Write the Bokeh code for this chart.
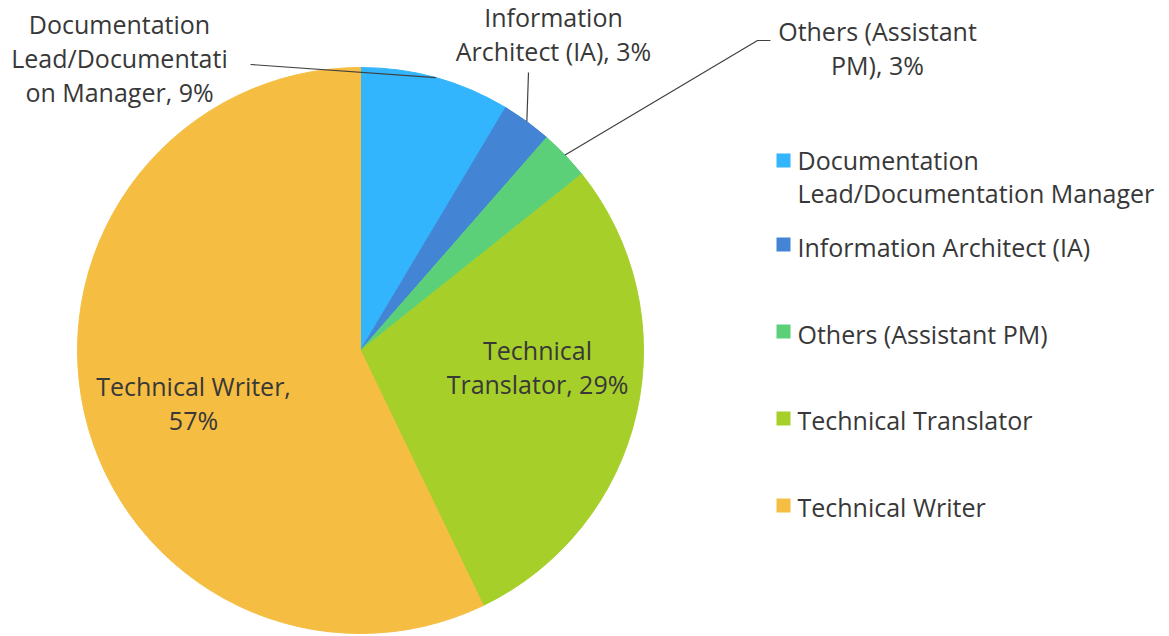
import math
from bokeh.plotting import figure
from bokeh.models import Range1d, ColumnDataSource
from bokeh.core.properties import value
from bokeh.embed import file_html
from bokeh.resources import INLINE

# ---- data ----
categories = ["Documentation Lead/Documentation Manager", "Information Architect (IA)",
              "Others (Assistant PM)", "Technical Translator", "Technical Writer"]
counts = [3, 1, 1, 10, 20]
colors = ["#33B5FD", "#4484D4", "#5BD079", "#A6CF2A", "#F5BE42"]
legend_labels = ["Documentation\nLead/Documentation Manager", "Information Architect (IA)",
                 "Others (Assistant PM)", "Technical Translator", "Technical Writer"]
label_templates = ["Documentation\nLead/Documentati\non Manager, {}%",
                   "Information\nArchitect (IA), {}%",
                   "Others (Assistant\nPM), {}%",
                   "Technical\nTranslator, {}%",
                   "Technical Writer,\n{}%"]

FONT = "Open Sans"
FS = "25px"
TXT = "#383838"
W_PLOT, H_PLOT = 1169, 636

def Y(y):
    return H_PLOT - y

p = figure(width=W_PLOT, height=H_PLOT, output_backend="svg", toolbar_location=None,
           x_range=Range1d(0, W_PLOT), y_range=Range1d(0, H_PLOT),
           x_axis_location=None, y_axis_location=None, min_border=0)
p.grid.visible = False
p.outline_line_color = None
p.background_fill_color = "white"
p.border_fill_color = "white"

cx, cy, R = 360, Y(350), 283
total = sum(counts)
cum = [0]
for c in counts:
    cum.append(cum[-1] + c)
starts = [math.pi / 2 - 2 * math.pi * cum[i + 1] / total for i in range(len(counts))]
ends = [math.pi / 2 - 2 * math.pi * cum[i] / total for i in range(len(counts))]
mids = [(s + e) / 2 for s, e in zip(starts, ends)]
pcts = [round(100 * c / total) for c in counts]

src = ColumnDataSource(dict(x=[cx] * 5, y=[cy] * 5, start=starts, end=ends, color=colors))
p.wedge(x="x", y="y", radius=R, start_angle="start", end_angle="end", source=src,
        fill_color="color", line_color="color", line_width=1)

# leader lines for the three small slices
leader_ends = [[(250, 64)], [(528, 72)], [(757, 40), (770, 40)]]
for i in range(3):
    xs = [cx + R * math.cos(mids[i])]
    ys = [cy + R * math.sin(mids[i])]
    for (ex, ey) in leader_ends[i]:
        xs.append(ex)
        ys.append(Y(ey))
    p.line(xs, ys, line_color="#404040", line_width=1.2)

# data labels
label_pos = [(119, 57), (553, 33), (877, 47), (537, 366), (193, 402)]
lab_src = ColumnDataSource(dict(
    x=[lp[0] for lp in label_pos], y=[Y(lp[1]) for lp in label_pos],
    text=[t.format(v) for t, v in zip(label_templates, pcts)]))
p.text(x="x", y="y", text="text", source=lab_src, text_font=value(FONT),
       text_font_size=FS, text_color=TXT, text_align="center", text_baseline="middle",
       text_line_height=1.0)

# legend
leg_y = [176, 246, 333, 419, 506]
sq_y = [160, 244, 331, 418, 505]
p.rect(x=[783] * 5, y=[Y(v) for v in sq_y], width=14, height=14, fill_color=colors,
       line_color=None)
p.text(x=[797] * 5, y=[Y(v) for v in leg_y], text=legend_labels, text_font=value(FONT),
       text_font_size=FS, text_color=TXT, text_align="left", text_baseline="middle",
       text_line_height=0.97)

open("out.html", "w").write(file_html(p, INLINE))
